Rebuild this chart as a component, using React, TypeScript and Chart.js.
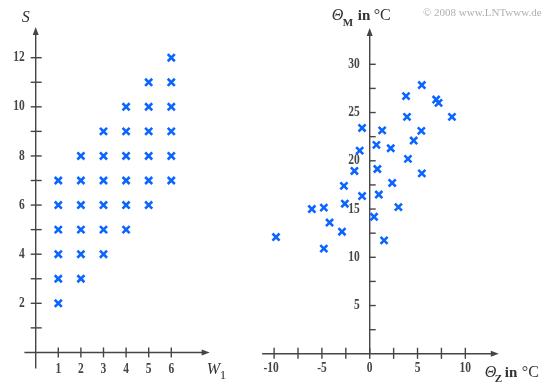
import React, { useEffect, useRef } from 'react';
import { Chart, registerables } from 'chart.js';
Chart.register(...registerables);

// ---- Left chart data: W1 (first die) vs S (sum) ----
const W1 = [1, 1, 1, 1, 1, 1, 2, 2, 2, 2, 2, 2, 3, 3, 3, 3, 3, 3, 4, 4, 4, 4, 4, 4, 5, 5, 5, 5, 5, 5, 6, 6, 6, 6, 6, 6];
const S = [2, 3, 4, 5, 6, 7, 3, 4, 5, 6, 7, 8, 4, 5, 6, 7, 8, 9, 5, 6, 7, 8, 9, 10, 6, 7, 8, 9, 10, 11, 7, 8, 9, 10, 11, 12];

// ---- Right chart data: Theta_Z vs Theta_M (°C) ----
const thetaZ = [-0.8, 1.3, 3.8, 3.9, 0.7, 2.2, -1.05, 4.0, 5.45, 6.95, 7.2, 8.6, 5.4, 4.6, 5.45, -1.6, 0.8, -2.7, 2.35, -0.8, 0.95, -6.05, -4.8, -2.6, 3.0, 0.45, -4.2, -2.9, -9.8, 1.5, -4.8];
const thetaM = [23.4, 23.15, 26.7, 24.55, 21.65, 21.3, 21.05, 20.2, 27.85, 26.35, 26.0, 24.55, 23.1, 22.1, 18.7, 18.95, 19.15, 17.4, 17.7, 16.35, 16.5, 15.0, 15.15, 15.55, 15.2, 14.2, 13.6, 12.65, 12.1, 11.75, 10.9];

// ---- Tick definitions ----
const leftXTicks = [1, 2, 3, 4, 5, 6];
const leftXLabels = ['1', '2', '3', '4', '5', '6'];
const leftYTicks = [1, 2, 3, 4, 5, 6, 7, 8, 9, 10, 11, 12];
const leftYLabels = ['', '2', '', '4', '', '6', '', '8', '', '10', '', '12'];
const rightXTicks = [-10, -7.5, -5, -2.5, 0, 2.5, 5, 7.5, 10];
const rightXLabels = ['-10', '', '-5', '', '0', '', '5', '', '10'];
const rightYTicks = [2.5, 5, 7.5, 10, 12.5, 15, 17.5, 20, 22.5, 25, 27.5, 30];
const rightYLabels = ['', '5', '', '10', '', '15', '', '20', '', '25', '', '30'];

const AXIS_COLOR = '#454545';
const POINT_COLOR = '#0a66ff';
const SERIF = "'Liberation Serif', 'Times New Roman', serif";

function drawNum(ctx: CanvasRenderingContext2D, text: string, x: number, y: number, align: CanvasTextAlign) {
  ctx.save();
  ctx.translate(x, y);
  ctx.scale(0.82, 1);
  ctx.font = `bold 14px ${SERIF}`;
  ctx.textAlign = align;
  ctx.textBaseline = 'middle';
  ctx.fillText(text, 0, 0);
  ctx.restore();
}

type Spec = {
  xTicks: number[];
  xLabels: string[];
  yTicks: number[];
  yLabels: string[];
  xTickUp: number;
  xTickDown: number;
  yTickLeft: number;
  yTickRight: number;
  xLabelGap: number;
  yLabelGap: number;
  titles: (ctx: CanvasRenderingContext2D, x0: number, y0: number, a: any) => void;
};

function makeAxesPlugin(spec: Spec) {
  return {
    id: 'customAxes',
    beforeDatasetsDraw(chart: any) {
      const { ctx, chartArea: a, scales } = chart;
      const xs = scales.x;
      const ys = scales.y;
      const x0 = xs.getPixelForValue(0);
      const y0 = ys.getPixelForValue(0);
      ctx.save();
      ctx.strokeStyle = AXIS_COLOR;
      ctx.fillStyle = AXIS_COLOR;
      ctx.lineWidth = 1.4;
      // x axis
      ctx.beginPath();
      ctx.moveTo(a.left, y0);
      ctx.lineTo(a.right - 5, y0);
      ctx.stroke();
      ctx.beginPath();
      ctx.moveTo(a.right, y0);
      ctx.lineTo(a.right - 8, y0 - 3);
      ctx.lineTo(a.right - 8, y0 + 3);
      ctx.closePath();
      ctx.fill();
      // y axis
      ctx.beginPath();
      ctx.moveTo(x0, a.bottom);
      ctx.lineTo(x0, a.top + 5);
      ctx.stroke();
      ctx.beginPath();
      ctx.moveTo(x0, a.top);
      ctx.lineTo(x0 - 3, a.top + 8);
      ctx.lineTo(x0 + 3, a.top + 8);
      ctx.closePath();
      ctx.fill();
      // x ticks
      spec.xTicks.forEach((v, i) => {
        const px = xs.getPixelForValue(v);
        ctx.beginPath();
        ctx.moveTo(px, y0 - spec.xTickUp);
        ctx.lineTo(px, y0 + spec.xTickDown);
        ctx.stroke();
        const lab = spec.xLabels[i];
        if (lab) drawNum(ctx, lab, px - (lab.startsWith('-') && lab.length > 2 ? 3 : 0), y0 + spec.xLabelGap, 'center');
      });
      // y ticks
      spec.yTicks.forEach((v, i) => {
        const py = ys.getPixelForValue(v);
        ctx.beginPath();
        ctx.moveTo(x0 - spec.yTickLeft, py);
        ctx.lineTo(x0 + spec.yTickRight, py);
        ctx.stroke();
        if (spec.yLabels[i]) drawNum(ctx, spec.yLabels[i], x0 - spec.yLabelGap, py, 'right');
      });
      spec.titles(ctx, x0, y0, a);
      ctx.restore();
    },
  };
}

function ScatterCanvas(props: {
  xs: number[];
  ys: number[];
  width: number;
  left: number;
  xMin: number;
  xMax: number;
  yMin: number;
  yMax: number;
  padding: { left: number; right: number; top: number; bottom: number };
  spec: Spec;
}) {
  const ref = useRef<HTMLCanvasElement | null>(null);
  useEffect(() => {
    if (!ref.current) return;
    const data = props.xs.map((x, i) => ({ x, y: props.ys[i] }));
    const chart = new Chart(ref.current, {
      type: 'scatter',
      data: {
        datasets: [
          {
            data,
            pointStyle: 'crossRot',
            pointRadius: 5,
            pointBorderWidth: 2.6,
            borderColor: POINT_COLOR,
            backgroundColor: POINT_COLOR,
            clip: false,
          } as any,
        ],
      },
      options: {
        responsive: false,
        animation: false,
        events: [],
        layout: { padding: props.padding },
        plugins: { legend: { display: false }, tooltip: { enabled: false } },
        scales: {
          x: { type: 'linear', min: props.xMin, max: props.xMax, display: false },
          y: { type: 'linear', min: props.yMin, max: props.yMax, display: false },
        },
      },
      plugins: [makeAxesPlugin(props.spec)],
    });
    return () => chart.destroy();
  }, []);
  return (
    <canvas
      ref={ref}
      width={props.width}
      height={390}
      style={{ position: 'absolute', left: props.left, top: 0, width: props.width, height: 390 }}
    />
  );
}

const leftSpec: Spec = {
  xTicks: leftXTicks,
  xLabels: leftXLabels,
  yTicks: leftYTicks,
  yLabels: leftYLabels,
  xTickUp: 5,
  xTickDown: 5,
  yTickLeft: 5,
  yTickRight: 6,
  xLabelGap: 17,
  yLabelGap: 11,
  titles: (ctx, x0, y0, a) => {
    ctx.fillStyle = '#333';
    ctx.textAlign = 'left';
    ctx.textBaseline = 'alphabetic';
    ctx.font = `italic 16px ${SERIF}`;
    ctx.fillText('S', x0 - 14, 21.5);
    ctx.fillText('W', a.right - 3, y0 + 22);
    ctx.font = `13px ${SERIF}`;
    ctx.fillText('1', a.right + 10, y0 + 26.5);
  },
};

const rightSpec: Spec = {
  xTicks: rightXTicks,
  xLabels: rightXLabels,
  yTicks: rightYTicks,
  yLabels: rightYLabels,
  xTickUp: 6,
  xTickDown: 5,
  yTickLeft: 0,
  yTickRight: 6,
  xLabelGap: 15,
  yLabelGap: 10,
  titles: (ctx, x0, y0, a) => {
    ctx.fillStyle = '#333';
    ctx.textAlign = 'left';
    ctx.textBaseline = 'alphabetic';
    // Theta_M in °C
    ctx.font = `italic 16px ${SERIF}`;
    ctx.fillText('Θ', x0 - 38, 20);
    ctx.font = `bold 11px ${SERIF}`;
    ctx.fillText('M', x0 - 27, 25.5);
    ctx.font = `bold 15px ${SERIF}`;
    ctx.fillText('in', x0 - 12, 20);
    ctx.font = `16px ${SERIF}`;
    ctx.fillText('°C', x0 + 4, 20);
    // Theta_Z in °C
    ctx.font = `italic 16px ${SERIF}`;
    ctx.fillText('Θ', a.right - 14, y0 + 23);
    ctx.font = `bold 11px ${SERIF}`;
    ctx.fillText('Z', a.right - 4, y0 + 28.5);
    ctx.font = `bold 15px ${SERIF}`;
    ctx.fillText('in', a.right + 6, y0 + 23);
    ctx.font = `16px ${SERIF}`;
    ctx.fillText('°C', a.right + 23, y0 + 23);
    // copyright
    ctx.fillStyle = '#b0b0b0';
    ctx.font = `11px ${SERIF}`;
    ctx.fillText('© 2008 www.LNTwww.de', 173, 16);
  },
};

export default function App() {
  return (
    <div style={{ position: 'fixed', left: 0, top: 0, width: 551, height: 390, background: '#fff', overflow: 'hidden' }}>
      <ScatterCanvas
        xs={W1}
        ys={S}
        width={250}
        left={0}
        xMin={-0.5}
        xMax={7.7}
        yMin={-0.65}
        yMax={13.25}
        padding={{ left: 24.4, right: 40.3, top: 27, bottom: 21.6 }}
        spec={leftSpec}
      />
      <ScatterCanvas
        xs={thetaZ}
        ys={thetaM}
        width={301}
        left={250}
        xMin={-11.25}
        xMax={13.5}
        yMin={0}
        yMax={33.75}
        padding={{ left: 12.15, right: 52.2, top: 28.1, bottom: 36.2 }}
        spec={rightSpec}
      />
    </div>
  );
}
